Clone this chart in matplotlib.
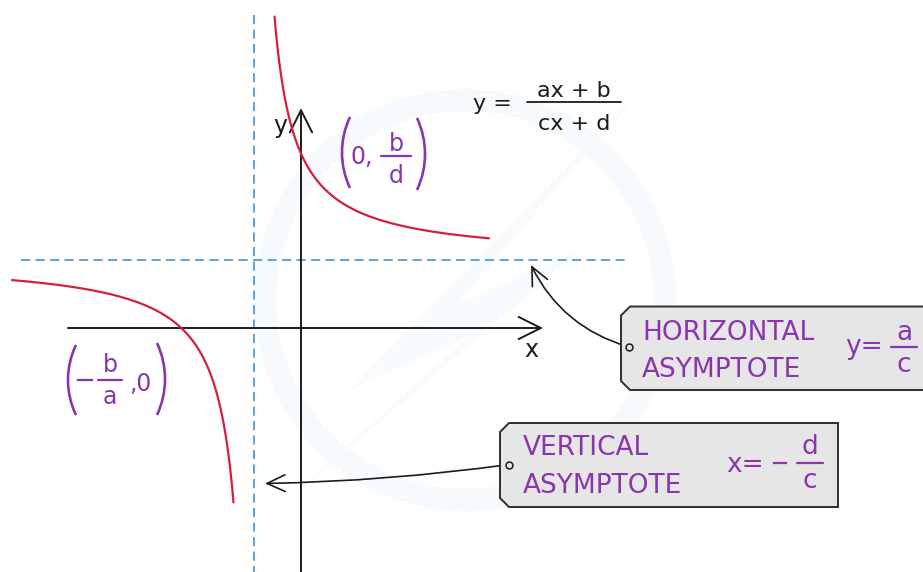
import numpy as np
import matplotlib
matplotlib.use("Agg")
import matplotlib.pyplot as plt
from matplotlib.patches import Arc, Polygon, Circle

# ---- data: y = (a x + b) / (c x + d) ----
coef_a = 1.37
coef_b = 3.28
coef_c = 1.0
coef_d = 0.94
upper_branch_x = [-0.53, 3.76]
lower_branch_x = [-5.78, -1.35]

formula_num = "ax + b"
formula_den = "cx + d"
h_label = ["HORIZONTAL", "ASYMPTOTE"]
v_label = ["VERTICAL", "ASYMPTOTE"]

# ---- layout helpers (pixel -> data) ----
OX, OY, S = 301.0, 328.0, 50.0
W, H = 923, 572


def P(px, py):
    return ((px - OX) / S, (OY - py) / S)


RED = "#d42040"
BLUE = "#3d96d9"
PURPLE = "#8a35ad"
INK = "#1c1c1c"
FONT = "DejaVu Sans"

fig = plt.figure(figsize=(W / 100, H / 100), dpi=100)
ax = fig.add_axes([0, 0, 1, 1])
x0, y0 = P(0, H)
x1, y1 = P(W, 0)
ax.set_xlim(x0, x1)
ax.set_ylim(y0, y1)
ax.axis("off")

# very faint watermark
ax.add_patch(Circle(P(465, 300), 200 / S, fill=False, lw=16, ec="#f7fafd", zorder=0))
ax.add_patch(Polygon([P(655, 75), P(350, 390), P(470, 335), P(265, 520),
                      P(580, 250), P(455, 305)], closed=True, fc="#f8fbfd",
                     ec="none", zorder=0))


def f(x):
    return (coef_a * x + coef_b) / (coef_c * x + coef_d)


# asymptotes
va_x = -coef_d / coef_c
ha_y = coef_a / coef_c
ax.plot([va_x, va_x], [P(0, 15)[1], P(0, 572)[1]], color=BLUE, lw=1.2,
        dashes=(5.5, 3.2), zorder=1)
ax.plot([P(21, 0)[0], P(630, 0)[0]], [ha_y, ha_y], color=BLUE, lw=1.2,
        dashes=(5.5, 3.2), zorder=1)

# axes with open arrow heads
axis_arrow = dict(arrowstyle="->,head_length=0.8,head_width=0.4", color=INK,
                  lw=1.4, shrinkA=0, shrinkB=0, mutation_scale=20)
ax.annotate("", xy=(P(543, 0)[0], 0), xytext=(P(68, 0)[0], 0),
            arrowprops=axis_arrow, zorder=2)
ax.annotate("", xy=(0, P(0, 108)[1]), xytext=(0, P(0, 572)[1]),
            arrowprops=axis_arrow, zorder=2)
ax.text(*P(280, 133), "y", fontsize=17, family=FONT, color=INK, ha="center",
        va="baseline", zorder=3)
ax.text(*P(531, 357), "x", fontsize=17, family=FONT, color=INK, ha="center",
        va="baseline", zorder=3)

# curve branches
xu = np.linspace(upper_branch_x[0], upper_branch_x[1], 400)
xl = np.linspace(lower_branch_x[0], lower_branch_x[1], 400)
ax.plot(xu, f(xu), color=RED, lw=1.6, solid_capstyle="round", zorder=3)
ax.plot(xl, f(xl), color=RED, lw=1.6, solid_capstyle="round", zorder=3)


def frac(cx, line_y, half, num, den, num_base, den_base, color, size, lw=1.6, z=4):
    ax.plot([P(cx - half, 0)[0], P(cx + half, 0)[0]], [P(0, line_y)[1]] * 2,
            color=color, lw=lw, solid_capstyle="round", zorder=z)
    ax.text(*P(cx, num_base), num, fontsize=size, family=FONT, color=color,
            ha="center", va="baseline", zorder=z)
    ax.text(*P(cx, den_base), den, fontsize=size, family=FONT, color=color,
            ha="center", va="baseline", zorder=z)


def paren(edge_x, top, bottom, side, sag=8):
    h = bottom - top
    R = (h * h / 4 + sag * sag) / (2 * sag)
    th = np.degrees(np.arcsin(h / 2 / R))
    cy = (top + bottom) / 2
    if side == "left":
        c = P(edge_x + R, cy)
        t1, t2 = 180 - th, 180 + th
    else:
        c = P(edge_x - R, cy)
        t1, t2 = -th, th
    ax.add_patch(Arc(c, 2 * R / S, 2 * R / S, theta1=t1, theta2=t2,
                     color=PURPLE, lw=1.9, zorder=4))


# formula
ax.text(*P(473, 110), "y =", fontsize=16, family=FONT, color=INK, ha="left",
        va="baseline", zorder=4)
frac(574, 102, 47, formula_num, formula_den, 97, 130, INK, 16, lw=1.3)

# (0, b/d)
paren(342, 117, 188, "left")
paren(425, 118, 190, "right")
ax.text(*P(350, 164), "0,", fontsize=17, family=FONT, color=PURPLE,
        ha="left", va="baseline", zorder=4)
frac(396, 156, 15, "b", "d", 151, 183, PURPLE, 17)

# (-b/a, 0)
paren(68, 345, 415, "left")
paren(165, 343, 415, "right")
ax.plot([P(78, 0)[0], P(92, 0)[0]], [P(0, 380)[1]] * 2, color=PURPLE, lw=1.6,
        zorder=4)
frac(110, 380, 12, "b", "a", 372, 404, PURPLE, 17)
ax.text(*P(129, 391), ",0", fontsize=17, family=FONT, color=PURPLE,
        ha="left", va="baseline", zorder=4)


def box(left, top, right, bottom, ch=9):
    pts = [P(left + ch, top), P(right, top), P(right, bottom),
           P(left + ch, bottom), P(left, bottom - ch), P(left, top + ch)]
    ax.add_patch(Polygon(pts, closed=True, fc="#e6e6e6", ec="#2e2e2e",
                         lw=1.4, zorder=5))


# horizontal asymptote callout
ax.annotate("", xy=P(531, 265), xytext=P(629, 347),
            arrowprops=dict(arrowstyle="->,head_length=0.65,head_width=0.3",
                            connectionstyle="arc3,rad=-0.22", color=INK,
                            lw=1.2, shrinkA=0, shrinkB=0, mutation_scale=20),
            zorder=4)
box(621, 306.5, 935, 390)
ax.plot(*P(629, 347), "o", ms=5, mfc="#e6e6e6", mec=INK, mew=1.1, zorder=7)
ax.text(*P(642, 340), h_label[0], fontsize=19, family=FONT, color=PURPLE,
        ha="left", va="baseline", zorder=6)
ax.text(*P(642, 377), h_label[1], fontsize=19, family=FONT, color=PURPLE,
        ha="left", va="baseline", zorder=6)
ax.text(*P(845, 354), "y=", fontsize=19, family=FONT, color=PURPLE,
        ha="left", va="baseline", zorder=6)
frac(904, 347, 13, "a", "c", 340, 372, PURPLE, 19, z=6)

# vertical asymptote callout
ax.annotate("", xy=P(265, 483.5), xytext=P(509, 464.5),
            arrowprops=dict(arrowstyle="->,head_length=0.65,head_width=0.3",
                            connectionstyle="arc3,rad=-0.03", color=INK,
                            lw=1.2, shrinkA=0, shrinkB=0, mutation_scale=20),
            zorder=4)
box(500, 423, 838, 507)
ax.plot(*P(509, 464.5), "o", ms=5, mfc="#e6e6e6", mec=INK, mew=1.1, zorder=7)
ax.text(*P(523, 455), v_label[0], fontsize=19, family=FONT, color=PURPLE,
        ha="left", va="baseline", zorder=6)
ax.text(*P(523, 493), v_label[1], fontsize=19, family=FONT, color=PURPLE,
        ha="left", va="baseline", zorder=6)
ax.text(*P(726, 472), "x=", fontsize=19, family=FONT, color=PURPLE,
        ha="left", va="baseline", zorder=6)
ax.plot([P(774, 0)[0], P(786, 0)[0]], [P(0, 463)[1]] * 2, color=PURPLE,
        lw=1.6, zorder=6)
frac(810, 463, 13, "d", "c", 454, 488, PURPLE, 19, z=6)

fig.savefig("out.png", dpi=100, facecolor="white")
